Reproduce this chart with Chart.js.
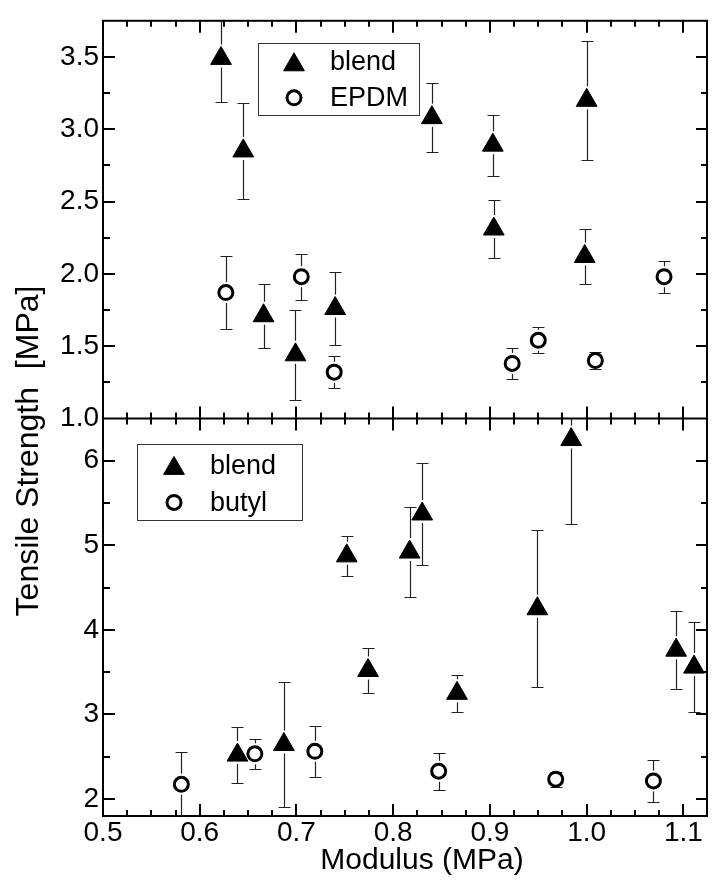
<!DOCTYPE html>
<html>
<head>
<meta charset="utf-8">
<script src="https://cdn.jsdelivr.net/npm/chart.js@4"></script>
<style>
  html, body { margin: 0; padding: 0; background: #fff; overflow: hidden; }
  #wrap { width: 720px; height: 883px; }
</style>
</head>
<body>
<div id="wrap"><canvas id="grafica" width="720" height="883"></canvas></div>
<script>
// --- panel superior: blend / EPDM ---
const blendTopX = [0.622, 0.645, 0.666, 0.699, 0.740, 0.840, 0.903, 0.904, 1.000, 0.998];
const blendTopY = [3.49, 2.85, 1.71, 1.44, 1.76, 3.08, 2.89, 2.31, 3.20, 2.12];
const blendTopErr = [0.30, 0.33, 0.22, 0.31, 0.25, 0.24, 0.21, 0.20, 0.41, 0.19];

const epdmX = [0.627, 0.705, 0.739, 0.923, 0.950, 1.009, 1.080];
const epdmY = [1.87, 1.98, 1.32, 1.38, 1.54, 1.40, 1.98];
const epdmErr = [0.25, 0.16, 0.11, 0.11, 0.09, 0.06, 0.11];

// --- panel inferior: blend / butyl ---
const blendBotX = [0.639, 0.687, 0.752, 0.774, 0.817, 0.830, 0.866, 0.949, 0.984, 1.0925, 1.111];
const blendBotY = [2.52, 2.645, 4.875, 3.52, 4.92, 5.37, 3.25, 4.25, 6.25, 3.76, 3.56];
const blendBotErr = [0.33, 0.74, 0.24, 0.27, 0.53, 0.60, 0.22, 0.93, 1.00, 0.46, 0.53];

const butylX = [0.581, 0.657, 0.719, 0.847, 0.968, 1.069];
const butylY = [2.175, 2.535, 2.565, 2.33, 2.235, 2.215];
const butylErr = [0.38, 0.18, 0.30, 0.22, 0.09, 0.25];

// ejes
const xRange = [0.5, 1.1244];
const yTopRange = [1.0, 3.75];
const yBotRange = [1.8, 6.5];
const xTitulo = "Modulus (MPa)";
const yTitulo = "Tensile Strength  [MPa]";

const FUENTE = "'Liberation Sans', Arial, Helvetica, sans-serif";

function puntos(xs, ys) {
  return xs.map((x, i) => ({ x: x, y: ys[i] }));
}

function serieTriangulo(label, xs, ys, errs, eje) {
  return {
    label: label, data: puntos(xs, ys), errores: errs, yAxisID: eje,
    pointStyle: 'triangle', pointRadius: 12, pointHoverRadius: 12,
    backgroundColor: '#000', borderColor: '#000', borderWidth: 1
  };
}
function serieCirculo(label, xs, ys, errs, eje) {
  return {
    label: label, data: puntos(xs, ys), errores: errs, yAxisID: eje,
    pointStyle: 'circle', pointRadius: 7, pointHoverRadius: 7,
    backgroundColor: '#fff', borderColor: '#000', borderWidth: 3
  };
}

// dibuja un marcador igual que los del grafico
function marcador(ctx, ds, x, y) {
  ctx.save();
  ctx.beginPath();
  const r = ds.pointRadius;
  if (ds.pointStyle === 'triangle') {
    let rad = 0;
    ctx.moveTo(x + Math.sin(rad) * r, y - Math.cos(rad) * r);
    rad += 2 * Math.PI / 3;
    ctx.lineTo(x + Math.sin(rad) * r, y - Math.cos(rad) * r);
    rad += 2 * Math.PI / 3;
    ctx.lineTo(x + Math.sin(rad) * r, y - Math.cos(rad) * r);
    ctx.closePath();
  } else {
    ctx.arc(x, y, r, 0, Math.PI * 2);
  }
  ctx.fillStyle = ds.backgroundColor;
  ctx.fill();
  ctx.lineWidth = ds.borderWidth;
  ctx.strokeStyle = ds.borderColor;
  ctx.stroke();
  ctx.restore();
}

// marco y marcas hacia dentro (mayores y menores)
const marco = {
  id: 'marco',
  beforeDatasetsDraw(chart) {
    const ctx = chart.ctx, a = chart.chartArea;
    const xs = chart.scales.x, yt = chart.scales.yTop, yb = chart.scales.yBot;
    const medio = yt.bottom;
    ctx.save();
    ctx.strokeStyle = '#000';
    ctx.lineWidth = 2;
    ctx.strokeRect(a.left, a.top, a.right - a.left, a.bottom - a.top);
    ctx.beginPath();
    ctx.moveTo(a.left, medio); ctx.lineTo(a.right, medio);
    // eje x: mayor cada 0.1, menor cada 0.025
    for (let i = 0; ; i++) {
      const v = xRange[0] + i * 0.025;
      if (v > xRange[1] + 1e-9) break;
      if (i === 0) continue;
      const px = Math.round(xs.getPixelForValue(v));
      const len = i % 4 === 0 ? 12 : 6;
      ctx.moveTo(px, a.top); ctx.lineTo(px, a.top + len);
      ctx.moveTo(px, medio - len); ctx.lineTo(px, medio + len);
      ctx.moveTo(px, a.bottom); ctx.lineTo(px, a.bottom - len);
    }
    // ejes y
    [[yt, 0.25, 2], [yb, 0.5, 2]].forEach(([s, paso, cada]) => {
      const inicio = Math.ceil(s.min / paso - 1e-9);
      for (let k = inicio; ; k++) {
        const v = k * paso;
        if (v > s.max - 1e-9) break;
        if (v < s.min + 1e-9) continue;
        const py = Math.round(s.getPixelForValue(v));
        const mayor = k % cada === 0;
        ctx.moveTo(a.left, py); ctx.lineTo(a.left + (mayor ? 12 : 7), py);
        ctx.moveTo(a.right, py); ctx.lineTo(a.right - (mayor ? 11 : 6), py);
      }
    });
    ctx.stroke();
    ctx.restore();
  }
};

// barras de error, con hueco alrededor del marcador
const barras = {
  id: 'barras',
  beforeDatasetsDraw(chart) {
    const ctx = chart.ctx;
    const xs = chart.scales.x;
    chart.data.datasets.forEach(ds => {
      const ys = chart.scales[ds.yAxisID];
      const tri = ds.pointStyle === 'triangle';
      const r = ds.pointRadius;
      const arriba = tri ? r + 2 : r + ds.borderWidth / 2 + 2;
      const abajo = tri ? r / 2 + 3 : r + ds.borderWidth / 2 + 2;
      ctx.save();
      ctx.beginPath();
      ctx.rect(xs.left, ys.top, xs.width, ys.height);
      ctx.clip();
      ctx.strokeStyle = '#222';
      ctx.lineWidth = 1.2;
      ds.data.forEach((p, i) => {
        const e = ds.errores[i];
        const px = Math.round(xs.getPixelForValue(p.x)) + 0.5;
        const py = ys.getPixelForValue(p.y);
        const sup = Math.round(ys.getPixelForValue(p.y + e)) + 0.5;
        const inf = Math.round(ys.getPixelForValue(p.y - e)) + 0.5;
        ctx.beginPath();
        if (sup < py - arriba) { ctx.moveTo(px, sup); ctx.lineTo(px, py - arriba); }
        if (inf > py + abajo) { ctx.moveTo(px, py + abajo); ctx.lineTo(px, inf); }
        ctx.moveTo(px - 6, sup); ctx.lineTo(px + 6, sup);
        ctx.moveTo(px - 6, inf); ctx.lineTo(px + 6, inf);
        ctx.stroke();
      });
      ctx.restore();
    });
  }
};

// leyendas dentro de cada panel y titulos de ejes
const leyendas = {
  id: 'leyendas',
  afterDraw(chart) {
    const ctx = chart.ctx, a = chart.chartArea;
    const yt = chart.scales.yTop;
    const cajas = [
      { sets: [0, 1], x: a.left + 155, y: a.top + 22, w: 161, h: 72, f1: 19, f2: 55, mx: 36, tx: 72 },
      { sets: [2, 3], x: a.left + 34, y: yt.bottom + 26, w: 165, h: 76, f1: 21, f2: 58, mx: 37, tx: 73 }
    ];
    ctx.save();
    cajas.forEach(c => {
      ctx.strokeStyle = '#333';
      ctx.lineWidth = 1;
      ctx.strokeRect(Math.round(c.x) + 0.5, Math.round(c.y) + 0.5, c.w, c.h);
      [c.f1, c.f2].forEach((fy, j) => {
        const ds = chart.data.datasets[c.sets[j]];
        const cy = c.y + fy;
        const off = ds.pointStyle === 'triangle' ? ds.pointRadius / 4 : 0;
        marcador(ctx, ds, c.x + c.mx, cy + off);
        ctx.fillStyle = '#000';
        ctx.font = "27px " + FUENTE;
        ctx.textAlign = 'left';
        ctx.textBaseline = 'middle';
        ctx.fillText(ds.label, c.x + c.tx, cy + 1);
      });
    });
    // titulos
    ctx.fillStyle = '#000';
    ctx.font = "30px " + FUENTE;
    ctx.textAlign = 'center';
    ctx.textBaseline = 'middle';
    ctx.fillText(xTitulo, 422, 861);
    ctx.font = "32px " + FUENTE;
    ctx.translate(29, 451);
    ctx.rotate(-Math.PI / 2);
    ctx.fillText(yTitulo, 0, 0);
    ctx.restore();
  }
};

const tickFont = { family: FUENTE, size: 28 };

new Chart(document.getElementById('grafica'), {
  type: 'scatter',
  data: {
    datasets: [
      serieTriangulo('blend', blendTopX, blendTopY, blendTopErr, 'yTop'),
      serieCirculo('EPDM', epdmX, epdmY, epdmErr, 'yTop'),
      serieTriangulo('blend', blendBotX, blendBotY, blendBotErr, 'yBot'),
      serieCirculo('butyl', butylX, butylY, butylErr, 'yBot')
    ]
  },
  options: {
    responsive: false,
    animation: false,
    devicePixelRatio: 1,
    layout: { padding: { left: 0, right: 2, top: 14, bottom: 0 } },
    plugins: { legend: { display: false }, tooltip: { enabled: false } },
    scales: {
      x: {
        type: 'linear', position: 'bottom', min: xRange[0], max: xRange[1],
        grid: { display: false, drawTicks: false }, border: { display: false },
        ticks: { stepSize: 0.1, includeBounds: false, padding: 0, color: '#000', font: tickFont,
          callback: v => v.toFixed(1) },
        afterFit(s) { s.height = 67; }
      },
      yBot: {
        type: 'linear', position: 'left', stack: 'panel', stackWeight: 1, weight: 1,
        min: yBotRange[0], max: yBotRange[1],
        grid: { display: false, drawTicks: false }, border: { display: false },
        ticks: { stepSize: 1, includeBounds: false, padding: 4, color: '#000', font: tickFont,
          callback: v => v.toFixed(0) },
        afterFit(s) { s.width = 103; }
      },
      yTop: {
        type: 'linear', position: 'left', stack: 'panel', stackWeight: 1, weight: 2,
        min: yTopRange[0], max: yTopRange[1],
        grid: { display: false, drawTicks: false }, border: { display: false },
        ticks: { stepSize: 0.5, includeBounds: false, padding: 4, color: '#000', font: tickFont,
          callback: v => v.toFixed(1) },
        afterFit(s) { s.width = 103; }
      }
    }
  },
  plugins: [marco, barras, leyendas]
});
</script>
</body>
</html>
